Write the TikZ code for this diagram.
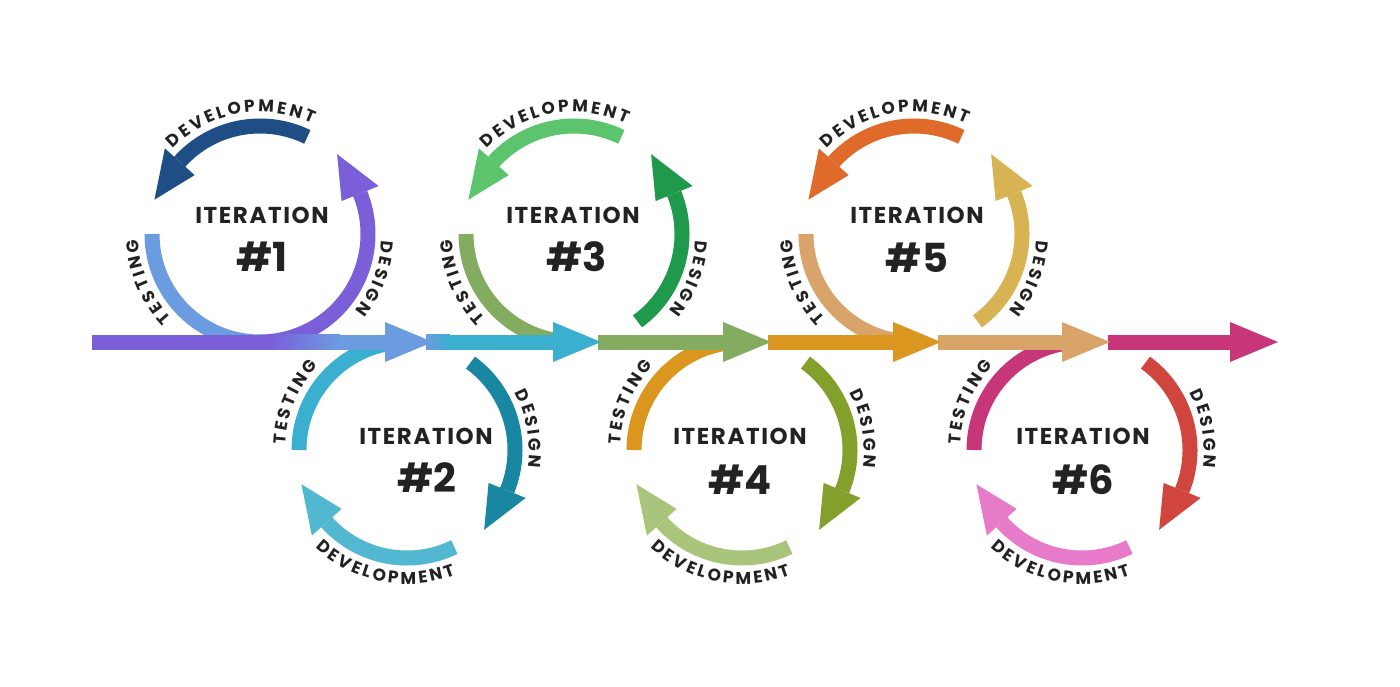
\documentclass[tikz,border=0pt]{standalone}
\usepackage{fontspec}
\newfontfamily\pop{Poppins}
\newfontfamily\popls{Poppins}[LetterSpace=7]
\usetikzlibrary{calc}
\definecolor{cadev}{HTML}{1F4E86}
\definecolor{cades}{HTML}{7A5FD9}
\definecolor{catst}{HTML}{6C9CE0}
\definecolor{cbdes}{HTML}{1A87A2}
\definecolor{cbdev}{HTML}{52B8D2}
\definecolor{cbtst}{HTML}{3AAFD0}
\definecolor{ccdev}{HTML}{5CC46C}
\definecolor{ccdes}{HTML}{1F9A4C}
\definecolor{cctst}{HTML}{84AC60}
\definecolor{cddes}{HTML}{84A02C}
\definecolor{cddev}{HTML}{A9C57C}
\definecolor{cdtst}{HTML}{DA961E}
\definecolor{cedev}{HTML}{E06A2A}
\definecolor{cedes}{HTML}{D7B354}
\definecolor{cetst}{HTML}{D8A46A}
\definecolor{cfdes}{HTML}{D0463E}
\definecolor{cfdev}{HTML}{E77AC9}
\definecolor{cftst}{HTML}{C8367A}
\definecolor{ink}{HTML}{222222}
\newcommand\lblfont{\pop\bfseries\fontsize{17}{19}\selectfont}
\newcommand\itfont{\popls\bfseries\fontsize{23}{26}\selectfont}
\newcommand\numfont{\pop\bfseries\fontsize{40}{44}\selectfont}
\def\Rad{108}
\def\trk{2.8}
% letters placed one by one along a circle (centre = current scope origin)
\newcommand\arcword[4]{% #1 radius, #2 centre angle, #3 dir, #4 letters
  \begingroup\lblfont
  \gdef\awtot{0}%
  \foreach \l in {#4}{%
    \pgfmathsetmacro\aww{width("\l")}%
    \pgfmathsetmacro\awt{\awtot+\aww+\trk}%
    \xdef\awtot{\awt}}%
  \pgfmathsetmacro\awW{\awtot-\trk}%
  \xdef\awW{\awW}%
  \gdef\awacc{0}%
  \foreach \l in {#4}{%
    \pgfmathsetmacro\aww{width("\l")}%
    \pgfmathsetmacro\awang{#2+(#3)*(\awacc+\aww/2-\awW/2)/#1*180/pi}%
    \pgfmathsetmacro\awrot{(#3)>0 ? -(\awang)-90 : 90-(\awang)}%
    \node[font=\lblfont, text=ink, anchor=base, inner sep=0pt, rotate=\awrot] at (\awang:#1) {\l};%
    \pgfmathsetmacro\awt{\awacc+\aww+\trk}%
    \xdef\awacc{\awt}}%
  \endgroup}
\tikzset{arcbody/.style={line width=15pt}}
% #1 cx, #2 cy, #3 side (1 top, -1 bottom), #4 design start, #5 testing, #6 design, #7 development colour
\newcommand\iteration[7]{%
  \begin{scope}[shift={(#1,#2)}]
    \draw[arcbody,#5] ({#3*180}:\Rad) arc[start angle={#3*180}, end angle={#3*90}, radius=\Rad];
    \draw[arcbody,#6] ({#3*#4}:\Rad) arc[start angle={#3*#4}, end angle={#3*(-22)}, radius=\Rad];
    \fill[#6] ({#3*(-22)}:{\Rad+20}) -- ({#3*(-46)}:{\Rad+3}) -- ({#3*(-22)}:{\Rad-20}) -- cycle;
    \draw[arcbody,#7] ({#3*296}:\Rad) arc[start angle={#3*296}, end angle={#3*222}, radius=\Rad];
    \fill[#7] ({#3*222}:{\Rad+20}) -- ({#3*198}:{\Rad+3}) -- ({#3*222}:{\Rad-20}) -- cycle;
    \ifnum#3>0
      \arcword{122}{260}{1}{D,E,V,E,L,O,P,M,E,N,T}
      \arcword{122}{21}{1}{D,E,S,I,G,N}
      \arcword{122}{157}{1}{T,E,S,T,I,N,G}
    \else
      \arcword{134}{101}{-1}{D,E,V,E,L,O,P,M,E,N,T}
      \arcword{122}{350}{1}{D,E,S,I,G,N}
      \arcword{122}{203}{1}{T,E,S,T,I,N,G}
    \fi
  \end{scope}}
\begin{document}
\begin{tikzpicture}[x=1pt,y=-1pt]
\useasboundingbox[fill=white] (0,0) rectangle (1400,687);
% circles
\iteration{260}{234}{1}{90}{catst}{cades}{cadev}
\iteration{407}{450}{-1}{54}{cbtst}{cbdes}{cbdev}
\iteration{574}{234}{1}{54}{cctst}{ccdes}{ccdev}
\iteration{742}{450}{-1}{54}{cdtst}{cddes}{cddev}
\iteration{914}{234}{1}{54}{cetst}{cedes}{cedev}
\iteration{1082}{450}{-1}{54}{cftst}{cfdes}{cfdev}
% main timeline
\coordinate (start) at (92,342);
\fill[cades] (92,334.5) rectangle (272,349.5);
\shade[left color=cades, right color=catst] (270,334.5) rectangle (340,349.5);
\fill[catst] (339,334.5) rectangle (390,349.5);
\shade[left color=catst, right color=cbtst] (426,334.5) rectangle (450,349.5);
\fill[cbtst] (449,334.5) rectangle (558,349.5);
\fill[cctst] (598,334.5) rectangle (728,349.5);
\fill[cdtst] (768,334.5) rectangle (898,349.5);
\fill[cetst] (938,334.5) rectangle (1067,349.5);
\fill[cftst] (1108,334.5) rectangle (1235,349.5);
\foreach \b/\c in {385/catst,553/cbtst,723/cctst,893/cdtst,1062/cetst,1230/cftst}{
  \fill[\c] (\b,322) -- (\b+48,342) -- (\b,362) -- cycle;}
% centre texts
\node[font=\itfont, text=ink] (it1) at (262,215) {ITERATION};
\node[font=\numfont, text=ink] (n1) at (262,257) {\#1};
\node[font=\itfont, text=ink] (it2) at (426,436) {ITERATION};
\node[font=\numfont, text=ink] (n2) at (427,478) {\#2};
\node[font=\itfont, text=ink] (it3) at (573,215) {ITERATION};
\node[font=\numfont, text=ink] (n3) at (577,257) {\#3};
\node[font=\itfont, text=ink] (it4) at (740,436) {ITERATION};
\node[font=\numfont, text=ink] (n4) at (740,480) {\#4};
\node[font=\itfont, text=ink] (it5) at (917,215) {ITERATION};
\node[font=\numfont, text=ink] (n5) at (917,258) {\#5};
\node[font=\itfont, text=ink] (it6) at (1083,436) {ITERATION};
\node[font=\numfont, text=ink] (n6) at (1083,480) {\#6};
\end{tikzpicture}
\end{document}
